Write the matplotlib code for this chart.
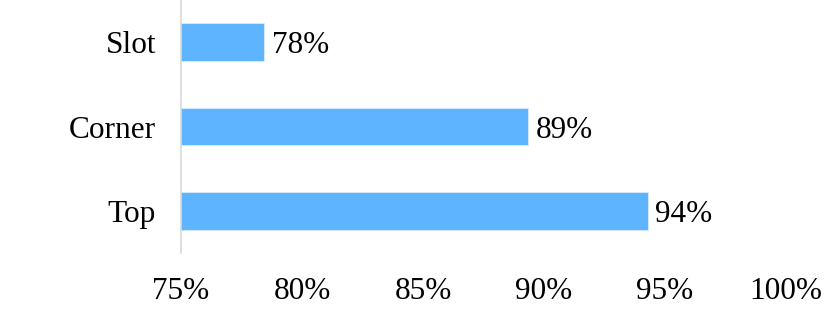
import matplotlib.pyplot as plt

categories = ["Top", "Corner", "Slot"]
values = [94.3, 89.35, 78.45]
labels = ["94%", "89%", "78%"]
xticks = [75, 80, 85, 90, 95, 100]

plt.rcParams['font.family'] = ['Liberation Serif', 'DejaVu Serif']
fs = 22.5

fig = plt.figure(figsize=(8.3, 3.16), dpi=100)
ax = fig.add_axes([181 / 830, 63 / 316, 605 / 830, 253 / 316])

bars = ax.barh(categories, values, height=0.45, color="#5eb4ff",
               edgecolor="#d8ecff", linewidth=0.6)
for bar, lab in zip(bars, labels):
    ax.text(bar.get_width() + 0.3, bar.get_y() + bar.get_height() / 2, lab,
            va="center_baseline", ha="left", fontsize=fs)

ax.set_xlim(75, 100)
ax.set_ylim(-0.5, 2.5)
ax.set_xticks(xticks)
ax.set_xticklabels([f"{t}%" for t in xticks])
ax.tick_params(axis="both", length=0, labelsize=fs)
ax.tick_params(axis="x", pad=17)
ax.tick_params(axis="y", pad=18)
for t in ax.get_yticklabels():
    t.set_verticalalignment("center_baseline")

for s in ["top", "right", "bottom"]:
    ax.spines[s].set_visible(False)
ax.spines["left"].set_color("#d9d9d9")
ax.spines["left"].set_linewidth(1.2)

fig.savefig("out.png", dpi=100)
